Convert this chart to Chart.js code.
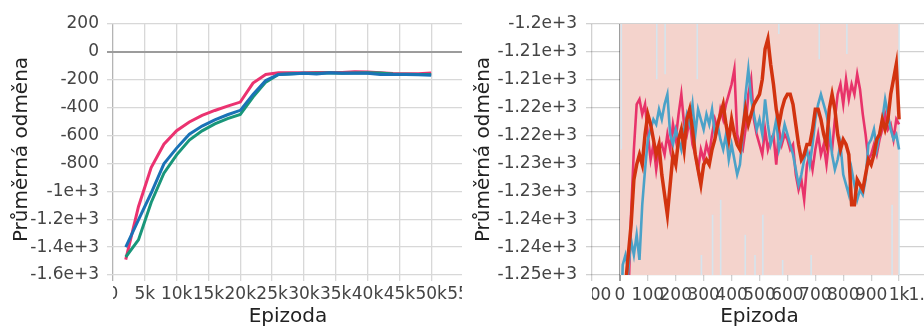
<!DOCTYPE html>
<html>
<head>
<meta charset="utf-8">
<script src="https://cdn.jsdelivr.net/npm/chart.js@4.4.0/dist/chart.umd.min.js"></script>
<style>
    body { margin: 0; background: #fff; overflow: hidden; width: 924px; height: 327px; position: relative; }
    #levy { position: absolute; left: 0; top: 0; width: 462px; height: 327px; overflow: hidden; }
    #pravy { position: absolute; left: 462px; top: 0; width: 462px; height: 327px; overflow: hidden; }
    canvas { position: absolute; left: 0; top: 0; }
</style>
</head>
<body>
<div id="levy"><canvas id="grafLevy" width="490" height="327"></canvas></div>
<div id="pravy"><canvas id="grafPravy" width="500" height="327"></canvas></div>

<script>
// --- levý graf: průměrná odměna po 2k epizodách ---
const leveEpizody = [2000, 4000, 6000, 8000, 10000, 12000, 14000, 16000, 18000, 20000, 22000, 24000, 26000,
    28000, 30000, 32000, 34000, 36000, 38000, 40000, 42000, 44000, 46000, 48000, 50000];
const levaRuzova = [-1490, -1110, -830, -662, -565, -503, -455, -420, -389, -360, -224, -162, -150,
    -150, -150, -148, -148, -147, -143, -144, -150, -155, -157, -156, -152];
const levaZelena = [-1471, -1348, -1080, -870, -738, -632, -566, -516, -478, -448, -324, -217, -162,
    -156, -153, -153, -152, -153, -152, -150, -152, -158, -160, -162, -163];
const levaModra = [-1400, -1205, -1012, -803, -690, -590, -532, -487, -451, -419, -305, -205, -162,
    -158, -153, -158, -150, -153, -154, -154, -162, -163, -163, -164, -168];
const leveXPopisky = ['0', '5k', '10k', '15k', '20k', '25k', '30k', '35k', '40k', '45k', '50k', '55k'];

// --- pravý graf: klouzavý průměr po epizodách (krok 10) ---
const praveEpizody = Array.from({ length: 101 }, (_, i) => i * 10);
const pravaRuzova = [-1270, -1268, -1262, -1255, -1238, -1225, -1216, -1215, -1218, -1216,
    -1222, -1227, -1224, -1229, -1225, -1224, -1226, -1222, -1225, -1220,
    -1223, -1218, -1214, -1220, -1222, -1219, -1224, -1226, -1229, -1225,
    -1227, -1224, -1226, -1222, -1219, -1221, -1217, -1219, -1216, -1214,
    -1212, -1209, -1222, -1224, -1225, -1221, -1214, -1211, -1219, -1222,
    -1224, -1226, -1221, -1225, -1223, -1222, -1228, -1221, -1224, -1222,
    -1223, -1225, -1224, -1230, -1233, -1231, -1235, -1228, -1226, -1229,
    -1225, -1222, -1226, -1224, -1228, -1223, -1225, -1219, -1214, -1212,
    -1216, -1211, -1215, -1212, -1214, -1210, -1213, -1218, -1222, -1227,
    -1226, -1224, -1226, -1223, -1221, -1218, -1221, -1220, -1223, -1219, -1220];
const pravaModra = [-1270, -1248, -1246, -1249, -1243, -1246, -1242, -1247, -1236, -1229,
    -1223, -1221, -1219, -1220, -1217, -1219, -1216, -1214, -1222, -1224,
    -1221, -1223, -1225, -1221, -1218, -1220, -1216, -1222, -1217, -1219,
    -1221, -1218, -1220, -1217, -1222, -1220, -1223, -1225, -1222, -1227,
    -1224, -1227, -1230, -1228, -1222, -1214, -1209, -1215, -1218, -1221,
    -1219, -1222, -1215, -1220, -1224, -1222, -1219, -1225, -1223, -1220,
    -1222, -1224, -1226, -1229, -1232, -1230, -1227, -1225, -1228, -1224,
    -1219, -1216, -1214, -1216, -1218, -1221, -1226, -1229, -1227, -1224,
    -1230, -1232, -1234, -1229, -1232, -1235, -1233, -1234, -1231, -1224,
    -1223, -1221, -1225, -1222, -1219, -1215, -1218, -1221, -1223, -1222, -1225];
const pravaCervena = [-1270, -1262, -1252, -1246, -1240, -1231, -1228, -1226, -1228, -1222,
    -1218, -1220, -1223, -1226, -1224, -1230, -1234, -1238, -1232, -1226,
    -1228, -1223, -1221, -1225, -1219, -1217, -1221, -1226, -1229, -1232,
    -1228, -1227, -1228, -1225, -1223, -1220, -1218, -1216, -1220, -1223,
    -1219, -1222, -1224, -1225, -1221, -1217, -1220, -1218, -1216, -1215,
    -1214, -1211, -1205, -1203, -1208, -1212, -1217, -1220, -1217, -1215,
    -1214, -1214, -1216, -1220, -1224, -1227, -1226, -1224, -1224, -1221,
    -1217, -1217, -1219, -1222, -1224, -1217, -1214, -1217, -1222, -1225,
    -1223, -1224, -1226, -1236, -1236, -1231, -1232, -1233, -1230, -1227,
    -1228, -1226, -1223, -1222, -1219, -1221, -1219, -1214, -1211, -1208, -1219];
// světlé svislé proužky v pozadí: [epizoda, horní, dolní]
const pravePruhy = [[5, -1200, -1225], [132, -1200, -1211], [162, -1200, -1210], [277, -1200, -1211],
    [292, -1246, -1250], [332, -1238, -1250], [361, -1235, -1250], [449, -1242, -1250],
    [484, -1246, -1250], [512, -1238, -1250], [569, -1200, -1202], [583, -1247, -1250],
    [685, -1246, -1250], [714, -1200, -1207], [813, -1200, -1206], [975, -1236, -1250], [1000, -1200, -1250]];
const pravePasmo = [-1150, -1150];
const praveXPopisky = ['-100', '0', '100', '200', '300', '400', '500', '600', '700', '800', '900', '1k', '1.1k'];
const praveYPopisky = ['-1.25e+3', '-1.24e+3', '-1.24e+3', '-1.23e+3', '-1.23e+3',
    '-1.22e+3', '-1.22e+3', '-1.21e+3', '-1.21e+3', '-1.2e+3'];

Chart.defaults.font.family = "'DejaVu Sans', Verdana, sans-serif";
Chart.defaults.color = '#444';

// zakryje levou polovinu popisků osy x mimo plochu grafu (jako v originálu)
const orezPopisku = {
    id: 'orezPopisku',
    afterDraw(chart) {
        const { ctx, chartArea } = chart;
        ctx.save();
        ctx.fillStyle = '#fff';
        ctx.fillRect(0, chartArea.bottom + 10, chartArea.left, 22);
        ctx.restore();
    }
};

function body(xs, ys) {
    return xs.map((x, i) => ({ x: x, y: ys[i] }));
}

function titulek(text) {
    return { display: true, text: text, color: '#222', font: { size: 20, lineHeight: 1 }, padding: { top: 12, bottom: 0 } };
}

montarLevy();
montarPravy();

function montarLevy() {
    const ctx = document.getElementById('grafLevy').getContext('2d');
    new Chart(ctx, {
        type: 'line',
        data: {
            datasets: [
                { data: body(leveEpizody, levaModra), borderColor: '#1a72b6', borderWidth: 3, pointRadius: 0, order: 1 },
                { data: body(leveEpizody, levaZelena), borderColor: '#19967a', borderWidth: 3, pointRadius: 0, order: 2 },
                { data: body(leveEpizody, levaRuzova), borderColor: '#eb3270', borderWidth: 3, pointRadius: 0, order: 3 }
            ]
        },
        options: {
            responsive: false,
            animation: false,
            layout: { padding: { top: 24, right: 27, bottom: 0, left: 0 } },
            plugins: { legend: { display: false }, tooltip: { enabled: false } },
            scales: {
                x: {
                    type: 'linear', min: 0, max: 55000,
                    afterFit: s => { s.height = 52; },
                    border: { display: false },
                    grid: { color: c => c.tick && c.tick.value === 0 ? '#b4b4b4' : '#d8d8d8', lineWidth: 1.3, tickLength: 6 },
                    ticks: { stepSize: 5000, autoSkip: false, maxRotation: 0, padding: 3, font: { size: 17 },
                        callback: (v, i) => leveXPopisky[i] },
                    title: titulek('Epizoda')
                },
                y: {
                    min: -1600, max: 200,
                    afterFit: s => { s.width = 113; },
                    border: { display: false },
                    grid: { color: c => c.tick && c.tick.value === 0 ? '#9c9c9c' : '#d8d8d8',
                        lineWidth: c => c.tick && c.tick.value === 0 ? 2 : 1.3, tickLength: 6 },
                    ticks: { stepSize: 200, padding: 8, font: { size: 17 },
                        callback: v => Math.abs(v) >= 1000 ? (v / 1000) + 'e+3' : v },
                    title: titulek('Průměrná odměna')
                }
            }
        },
        plugins: [orezPopisku]
    });
}

function montarPravy() {
    const ctx = document.getElementById('grafPravy').getContext('2d');
    const pruhy = [];
    for (const p of pravePruhy) {
        pruhy.push({ x: p[0], y: p[1] }, { x: p[0], y: p[2] }, { x: p[0], y: null });
    }
    new Chart(ctx, {
        type: 'line',
        data: {
            datasets: [
                { data: body(praveEpizody, pravaCervena), borderColor: '#d2330f', borderWidth: 3.5, pointRadius: 0, order: 1 },
                { data: body(praveEpizody, pravaModra), borderColor: '#4ba2c8', borderWidth: 2.6, pointRadius: 0, order: 2 },
                { data: body(praveEpizody, pravaRuzova), borderColor: '#e8336a', borderWidth: 2.6, pointRadius: 0, order: 3 },
                { data: pruhy, borderColor: 'rgba(208,230,242,0.85)', borderWidth: 1.6, pointRadius: 0, spanGaps: false, order: 9 },
                { data: body([0, 1000], pravePasmo), borderWidth: 0, pointRadius: 0, fill: 'start',
                    backgroundColor: '#f4d3cc', order: 10 }
            ]
        },
        options: {
            responsive: false,
            animation: false,
            layout: { padding: { top: 24, right: 35, bottom: 0, left: 0 } },
            plugins: { legend: { display: false }, tooltip: { enabled: false } },
            scales: {
                x: {
                    type: 'linear', min: -100, max: 1100, z: 1,
                    afterFit: s => { s.height = 52; },
                    border: { display: false },
                    grid: { color: c => c.tick && c.tick.value === 0 ? 'rgba(0,0,0,0.38)' : 'rgba(0,0,0,0.18)',
                        lineWidth: c => c.tick && c.tick.value === 0 ? 2 : 1.3, tickLength: 6 },
                    ticks: { stepSize: 100, autoSkip: false, maxRotation: 0, padding: 4, font: { size: 17 },
                        callback: (v, i) => praveXPopisky[i] },
                    title: titulek('Epizoda')
                },
                y: {
                    min: -1250, max: -1200, z: 1,
                    afterFit: s => { s.width = 130; },
                    afterBuildTicks: s => { s.ticks = praveYPopisky.map((t, i) => ({ value: -1250 + i * 50 / 9 })); },
                    border: { display: false },
                    grid: { color: 'rgba(0,0,0,0.18)', lineWidth: 1.3, tickLength: 6 },
                    ticks: { padding: 9, font: { size: 17 }, callback: (v, i) => praveYPopisky[i] },
                    title: titulek('Průměrná odměna')
                }
            }
        },
        plugins: [orezPopisku]
    });
}
</script>
</body>
</html>
